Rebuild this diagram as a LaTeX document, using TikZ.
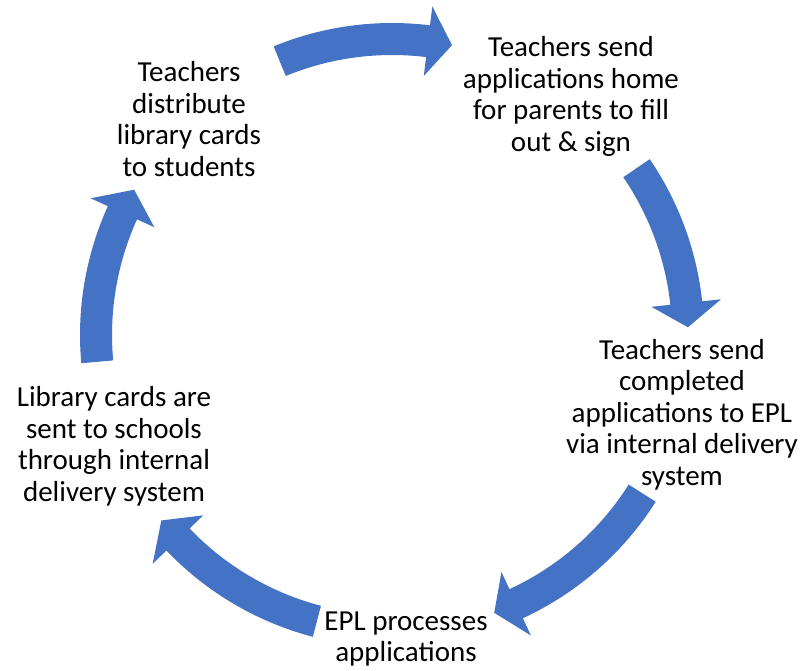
\documentclass[tikz,border=0pt]{standalone}
\usepackage{fontspec}
\setmainfont{Carlito}
\definecolor{arrowblue}{HTML}{4472C4}
\tikzset{
  lbl/.style={align=center, font=\fontsize{29}{31.5}\selectfont, inner sep=0pt, text=black},
  cyc/.style={fill=arrowblue, draw=none},
}
% #1 tail angle, #2 head-base angle, #3 tip angle (TikZ angles, y axis downwards)
\newcommand\cycarrow[3]{%
  \fill[cyc] (#1:312) arc[start angle=#1, end angle=#2, radius=312]
    -- (#2:331) -- (#3:296) -- (#2:261) -- (#2:280)
    arc[start angle=#2, end angle=#1, radius=280] -- cycle;
}
\begin{document}
\begin{tikzpicture}[x=1pt, y=-1pt]
  \useasboundingbox (0,0) rectangle (801,670);
  \begin{scope}[shift={(392,335)}]
    \cycarrow{-112.3}{-83.0}{-78.3}
    \cycarrow{-34.3}{-6.2}{-1.5}
    \cycarrow{32.3}{65.2}{69.8}
    \cycarrow{104.7}{136.3}{141.2}
    \cycarrow{174.8}{204.4}{209.4}
  \end{scope}
  \node[lbl] (n1) at (571,97.6) {\strut Teachers send\\applications home\\for parents to fill\\out \& sign\strut};
  \node[lbl] (n2) at (682,416) {\strut Teachers send\\completed\\applications to EPL\\via internal delivery\\system\strut};
  \node[lbl] (n3) at (406,639.5) {\strut EPL processes\\applications\strut};
  \node[lbl] (n4) at (114,447.6) {\strut Library cards are\\sent to schools\\through internal\\delivery system\strut};
  \node[lbl] (n5) at (189,122.9) {\strut Teachers\\distribute\\library cards\\to students\strut};
\end{tikzpicture}
\end{document}
